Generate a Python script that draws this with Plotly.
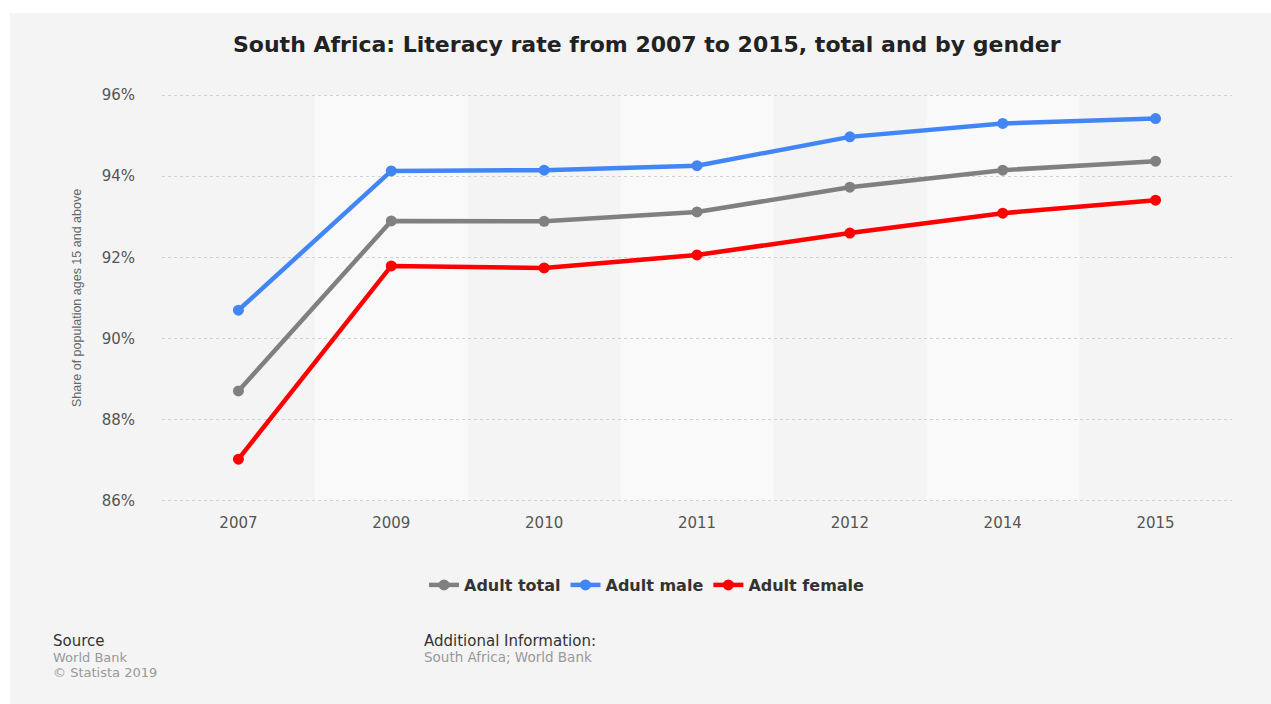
import plotly.graph_objects as go

years = ["2007", "2009", "2010", "2011", "2012", "2014", "2015"]
adult_total = [88.71, 92.90, 92.89, 93.12, 93.73, 94.15, 94.37]
adult_male = [90.70, 94.13, 94.15, 94.26, 94.97, 95.30, 95.42]
adult_female = [87.03, 91.79, 91.74, 92.06, 92.60, 93.09, 93.41]
y_tick_vals = [86, 88, 90, 92, 94, 96]
y_tick_text = ["86%", "88%", "90%", "92%", "94%", "96%"]

series = [
    ("Adult total", adult_total, "#808080"),
    ("Adult male", adult_male, "#4285f4"),
    ("Adult female", adult_female, "#ff0000"),
]

W, H = 1271, 704
# plot area: 86% at y=501, 96% at y=95 ; range padded by 0.1 on both ends
PAD = 0.1
unit = 406 / 10.0
L, R = 162, 39
T = round(95 - PAD * unit)
B = round(H - (501 + PAD * unit))
pw, ph = W - L - R, H - T - B

def px_x(p):
    return (p - L) / pw

def px_y(p):
    return (H - B - p) / ph

fig = go.Figure()
for name, vals, col in series:
    fig.add_trace(go.Scatter(
        x=years, y=vals, name="<b>" + name + "</b>", mode="lines+markers",
        line=dict(color=col, width=4.5),
        marker=dict(color=col, size=11),
    ))

shapes = [dict(type="rect", xref="paper", yref="paper",
               x0=px_x(10), x1=px_x(W + 5), y0=px_y(H + 5), y1=px_y(13),
               fillcolor="#f4f4f4", line=dict(width=0), layer="below")]
for i in (1, 3, 5):
    shapes.append(dict(type="rect", xref="x", yref="y",
                       x0=i - 0.5, x1=i + 0.5, y0=86, y1=96,
                       fillcolor="#f9f9f9", line=dict(width=0), layer="below"))

font = "DejaVu Sans, Arial, sans-serif"
annotations = [
    dict(text="<b>South Africa: Literacy rate from 2007 to 2015, total and by gender</b>",
         xref="paper", yref="paper", x=px_x(647), y=px_y(45), xanchor="center", yanchor="middle",
         showarrow=False, font=dict(size=22, color="#222", family=font)),
    dict(text="Source", xref="paper", yref="paper", x=px_x(51), y=px_y(641),
         xanchor="left", yanchor="middle", showarrow=False, font=dict(size=15, color="#333", family=font)),
    dict(text="World Bank", xref="paper", yref="paper", x=px_x(51), y=px_y(657),
         xanchor="left", yanchor="middle", showarrow=False, font=dict(size=13, color="#999", family=font)),
    dict(text="© Statista 2019", xref="paper", yref="paper", x=px_x(51), y=px_y(672),
         xanchor="left", yanchor="middle", showarrow=False, font=dict(size=13, color="#999", family=font)),
    dict(text="Additional Information:", xref="paper", yref="paper", x=px_x(422), y=px_y(641),
         xanchor="left", yanchor="middle", showarrow=False, font=dict(size=15, color="#333", family=font)),
    dict(text="South Africa; World Bank", xref="paper", yref="paper", x=px_x(422), y=px_y(657),
         xanchor="left", yanchor="middle", showarrow=False, font=dict(size=13.5, color="#999", family=font)),
]

fig.update_layout(
    width=W, height=H,
    margin=dict(l=L, r=R, t=T, b=B, pad=0),
    paper_bgcolor="white", plot_bgcolor="rgba(0,0,0,0)",
    font=dict(family=font, color="#666"),
    shapes=shapes, annotations=annotations,
    showlegend=True,
    legend=dict(orientation="h", x=px_x(647), y=px_y(585), xanchor="center", yanchor="middle",
                font=dict(size=16, color="#333", family=font), bgcolor="rgba(0,0,0,0)"),
    hovermode=False,
)
fig.update_xaxes(type="category", showgrid=False, zeroline=False, showline=False,
                 tickfont=dict(size=15, color="#555"), ticks="", ticklabelstandoff=7,
                 range=[-0.5, 6.5])
fig.update_yaxes(range=[86 - PAD, 96 + PAD], tickmode="array", tickvals=y_tick_vals, ticktext=y_tick_text,
                 showgrid=True, gridcolor="#d2d2d2", griddash="dot", gridwidth=1,
                 zeroline=False, showline=False,
                 tickfont=dict(size=15, color="#555"), ticks="", ticklabelstandoff=26,
                 title=dict(text="Share of population ages 15 and above",
                            font=dict(size=12.5, color="#666", family="Liberation Sans Narrow, Liberation Sans, Arial"),
                            standoff=17))

fig.write_html("out.html", config={"displayModeBar": False},
               post_script="document.body.style.margin='0';document.body.style.padding='0';")
